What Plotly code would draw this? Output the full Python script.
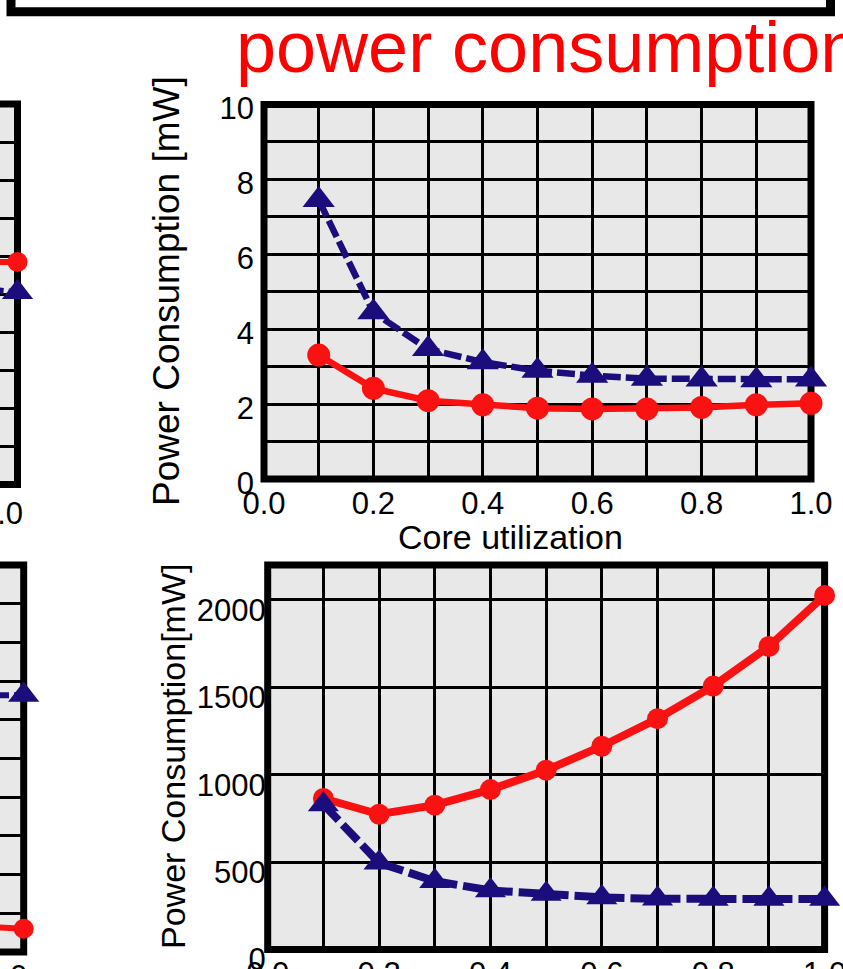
import plotly.graph_objects as go

# ---------------- data ----------------
util = [0.1, 0.2, 0.3, 0.4, 0.5, 0.6, 0.7, 0.8, 0.9, 1.0]

# top-right panel  [mW]
top_red = [3.31, 2.42, 2.09, 1.98, 1.89, 1.87, 1.87, 1.91, 1.98, 2.02]
top_blue = [7.45, 4.45, 3.47, 3.12, 2.89, 2.76, 2.68, 2.66, 2.64, 2.66]

# bottom-right panel  [mW]
bot_red = [864, 774, 826, 915, 1026, 1163, 1321, 1507, 1734, 2026]
bot_blue = [830, 496, 391, 338, 318, 298, 290, 289, 289, 289]

# partially visible panels on the left edge (only their last points show)
left_util = [0.9, 1.0]
tl_red = [5.85, 5.85]
tl_blue = [5.2, 5.05]
bl_red = [0.68, 0.60]
bl_blue = [6.62, 6.64]

x_ticks = [0.0, 0.2, 0.4, 0.6, 0.8, 1.0]
x_tick_text = ["0.0", "0.2", "0.4", "0.6", "0.8", "1.0"]
top_y_ticks = [0, 2, 4, 6, 8, 10]
bot_y_ticks = [0, 500, 1000, 1500, 2000]

title_text = "power consumption"
ytitle_top = "Power Consumption [mW]"
ytitle_bot = "Power Consumption[mW]"
xtitle = "Core utilization"

# ---------------- layout helpers ----------------
W, H = 843, 969
FONT = "Liberation Sans, Arial, Helvetica, sans-serif"
RED = "#fa1111"
BLUE = "#1c0d7c"
BG = "#e8e8e8"
GRID = dict(gridcolor="black", gridwidth=2.5)
TICKSIZE = 31


def px(p):
    return p / W


def py(p):
    return 1 - p / H


def xaxis(d0, d1, rng, anchor, labels=True, shift=0, standoff=0, tickvals=None, ticktext=None):
    return dict(
        domain=[px(d0), px(d1)], range=rng, anchor=anchor, automargin=False,
        showgrid=True, **GRID, zeroline=False, showline=False, ticks="",
        tickmode="array", tickvals=tickvals if tickvals is not None else x_ticks,
        ticktext=ticktext if ticktext is not None else x_tick_text,
        minor=dict(tickmode="linear", tick0=0, dtick=0.1, showgrid=True, **GRID, ticks=""),
        showticklabels=labels, ticklabeloverflow="allow",
        tickfont=dict(family=FONT, size=TICKSIZE, color="black"),
        ticklabelshift=shift, ticklabelstandoff=standoff,
        fixedrange=True,
    )


def yaxis(d_top, d_bot, rng, anchor, tickvals=None, minor_dtick=None, labels=True,
          shift=0, standoff=0, dtick=None):
    ax = dict(
        domain=[py(d_bot), py(d_top)], range=rng, anchor=anchor, automargin=False,
        showgrid=True, **GRID, zeroline=False, showline=False, ticks="",
        showticklabels=labels, ticklabeloverflow="allow",
        tickfont=dict(family=FONT, size=TICKSIZE, color="black"),
        ticklabelshift=shift, ticklabelstandoff=standoff,
        fixedrange=True,
    )
    if tickvals is not None:
        ax.update(tickmode="array", tickvals=tickvals, ticktext=[str(v) for v in tickvals])
    else:
        ax.update(tickmode="linear", tick0=0, dtick=dtick)
    if minor_dtick:
        ax["minor"] = dict(tickmode="linear", tick0=0, dtick=minor_dtick, showgrid=True, **GRID, ticks="")
    return ax


fig = go.Figure()


def add_pair(x, red, blue, xa, ya, rsize, tsize, lw, dash):
    fig.add_trace(go.Scatter(
        x=x, y=red, xaxis=xa, yaxis=ya, mode="lines+markers", cliponaxis=False,
        line=dict(color=RED, width=lw),
        marker=dict(symbol="circle", size=rsize, color=RED), name="red series",
    ))
    fig.add_trace(go.Scatter(
        x=x, y=blue, xaxis=xa, yaxis=ya, mode="lines+markers", cliponaxis=False,
        line=dict(color=BLUE, width=lw, dash=dash),
        marker=dict(symbol="triangle-up", size=tsize, color=BLUE), name="blue series",
    ))


add_pair(util, top_red, top_blue, "x", "y", 23, 28, 6.5, "18px,5px")
add_pair(util, bot_red, bot_blue, "x2", "y2", 21, 27, 8, "22px,6px")
add_pair(left_util, tl_red, tl_blue, "x3", "y3", 20, 27, 6, "18px,5px")
add_pair(left_util, bl_red, bl_blue, "x4", "y4", 20, 27, 6, "18px,5px")

# panel geometry (pixel edges, frame-line centres)
TR = dict(l=264, r=811, t=104.5, b=479)
BR = dict(l=267.7, r=824.6, t=565, b=949.5)
TL = dict(l=-60, r=17.5, t=104, b=484.5)
BL = dict(l=-60, r=23.7, t=565, b=952)

tl_span = TL["r"] / 547.0
bl_span = BL["r"] / 557.0

fig.update_layout(
    width=W, height=H, margin=dict(l=0, r=0, t=0, b=0, pad=0, autoexpand=False),
    paper_bgcolor="white", plot_bgcolor="rgba(0,0,0,0)", showlegend=False,
    xaxis=xaxis(TR["l"], TR["r"], [0, 1], "y", standoff=3),
    yaxis=yaxis(TR["t"], TR["b"], [0, 10], "x", tickvals=top_y_ticks, minor_dtick=1,
                shift=4, standoff=9),
    xaxis2=xaxis(BR["l"], BR["r"], [0, 1], "y2", standoff=2),
    yaxis2=yaxis(BR["t"], BR["b"], [0, 2200], "x2", tickvals=bot_y_ticks,
                 shift=10, standoff=1),
    xaxis3=xaxis(0, TL["r"], [1 - tl_span, 1], "y3", shift=-16, standoff=7,
                 tickvals=[1.0], ticktext=["1.0"]),
    yaxis3=yaxis(TL["t"], TL["b"], [0, 10], "x3", labels=False, dtick=1),
    xaxis4=xaxis(0, BL["r"], [1 - bl_span, 1], "y4", shift=-18, standoff=3,
                 tickvals=[1.0], ticktext=["1.0"]),
    yaxis4=yaxis(BL["t"], BL["b"], [0, 10], "x4", labels=False, dtick=1),
)

# panel backgrounds + thick frames (drawn under the grid and the data)
shapes = []
for g in (TR, BR, TL, BL):
    shapes.append(dict(type="rect", xref="paper", yref="paper",
                       x0=px(g["l"]), x1=px(g["r"]), y0=py(g["b"]), y1=py(g["t"]),
                       line=dict(color="black", width=7), fillcolor=BG, layer="below"))
# box at the very top (mostly above the visible area)
shapes.append(dict(type="rect", xref="paper", yref="paper",
                   x0=px(11), x1=px(830.5), y0=py(11.7), y1=py(-60),
                   line=dict(color="black", width=9), fillcolor="white", layer="above"))
fig.update_layout(shapes=shapes)

annotations = [
    dict(text=title_text, x=px(234), y=py(47), xref="paper", yref="paper",
         xanchor="left", yanchor="middle", showarrow=False,
         font=dict(family=FONT, size=72, color="#ff0000")),
    dict(text=ytitle_top, x=px(166), y=py(291), xref="paper", yref="paper",
         xanchor="center", yanchor="middle", showarrow=False, textangle=-90,
         font=dict(family=FONT, size=37, color="black")),
    dict(text=ytitle_bot, x=px(173), y=py(757), xref="paper", yref="paper",
         xanchor="center", yanchor="middle", showarrow=False, textangle=-90,
         font=dict(family=FONT, size=34, color="black")),
    dict(text=xtitle, x=px(510), y=py(536.5), xref="paper", yref="paper",
         xanchor="center", yanchor="middle", showarrow=False,
         font=dict(family=FONT, size=34, color="black")),
]
fig.update_layout(annotations=annotations)

fig.write_html("out.html")
